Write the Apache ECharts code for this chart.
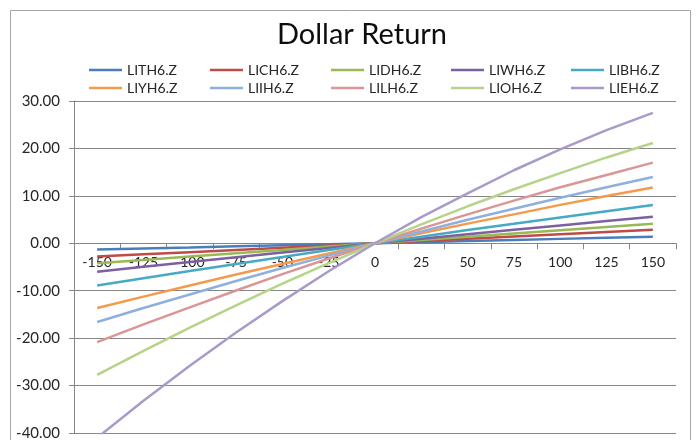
<!DOCTYPE html>
<html>
<head>
<meta charset="utf-8">
<title>Dollar Return</title>
<script src="https://cdn.jsdelivr.net/npm/echarts@6/dist/echarts.min.js"></script>
<style>
  html, body { margin: 0; padding: 0; background: #ffffff; }
  #chart { width: 697px; height: 440px; }
</style>
</head>
<body>
<div id="chart"></div>
<script>
// Price move (category axis)
const moves = ['-150', '-125', '-100', '-75', '-50', '-25', '0', '25', '50', '75', '100', '125', '150'];

// Dollar return per contract for each move
const LITH6 = [-1.30, -1.08, -0.87, -0.65, -0.43, -0.22, 0, 0.23, 0.46, 0.70, 0.93, 1.17, 1.40];
const LICH6 = [-2.80, -2.33, -1.87, -1.40, -0.93, -0.47, 0, 0.47, 0.94, 1.41, 1.89, 2.36, 2.83];
const LIDH6 = [-4.20, -3.50, -2.80, -2.10, -1.40, -0.70, 0, 0.69, 1.37, 2.06, 2.74, 3.42, 4.10];
const LIWH6 = [-6.00, -4.95, -3.95, -2.95, -1.95, -0.97, 0, 0.96, 1.91, 2.84, 3.77, 4.68, 5.58];
const LIBH6 = [-8.90, -7.35, -5.85, -4.35, -2.90, -1.40, 0, 1.40, 2.80, 4.10, 5.45, 6.75, 8.05];
const LIYH6 = [-13.65, -11.25, -8.90, -6.60, -4.35, -2.15, 0, 2.10, 4.15, 6.10, 8.10, 9.95, 11.78];
const LIIH6 = [-16.60, -13.65, -10.80, -7.95, -5.20, -2.60, 0, 2.50, 4.95, 7.30, 9.60, 11.80, 13.97];
const LILH6 = [-20.85, -17.10, -13.50, -9.95, -6.50, -3.20, 0, 3.10, 6.10, 9.00, 11.80, 14.40, 17.00];
const LIOH6 = [-27.75, -22.70, -17.80, -13.10, -8.50, -4.20, 0, 4.00, 7.80, 11.40, 14.80, 18.10, 21.15];
const LIEH6 = [-41.00, -33.20, -25.80, -18.80, -12.20, -5.90, 0, 5.50, 10.50, 15.40, 19.80, 23.85, 27.50];

const seriesNames = ['LITH6.Z', 'LICH6.Z', 'LIDH6.Z', 'LIWH6.Z', 'LIBH6.Z',
                     'LIYH6.Z', 'LIIH6.Z', 'LILH6.Z', 'LIOH6.Z', 'LIEH6.Z'];
const seriesData = [LITH6, LICH6, LIDH6, LIWH6, LIBH6, LIYH6, LIIH6, LILH6, LIOH6, LIEH6];
const colors = ['#4A7EBB', '#BE4B48', '#98B954', '#7D60A0', '#46AAC5',
                '#F59A4C', '#8EB0DE', '#DA9694', '#B5D48A', '#A99AC9'];

const FONT = 'Lato';

// Value-axis range; the category axis is drawn where the value is zero
const Y_MIN = -40, Y_MAX = 30;
const GRID_TOP = 101, GRID_BOTTOM = 7, CHART_H = 440;
const plotH = CHART_H - GRID_TOP - GRID_BOTTOM;
const zeroShift = -plotH * (0 - Y_MIN) / (Y_MAX - Y_MIN);

// Legend: two rows of five evenly spaced columns
const legendCols = [89, 210, 331, 451, 571];
const legendRows = [63, 81];
const legends = seriesNames.map((name, i) => ({
  data: [name],
  left: legendCols[i % 5],
  top: legendRows[Math.floor(i / 5)],
  icon: 'rect',
  itemWidth: 33,
  itemHeight: 2.5,
  padding: 0,
  selectedMode: false,
  textStyle: { fontFamily: FONT, fontSize: 14, color: '#262626' }
}));

const chart = echarts.init(document.getElementById('chart'), null, { renderer: 'canvas' });

chart.setOption({
  animation: false,
  color: colors,
  graphic: [
    {
      type: 'rect',
      shape: { x: 10.5, y: 10.5, width: 680, height: 440 },
      style: { fill: 'none', stroke: '#a6a6a6', lineWidth: 1 },
      silent: true
    },
    {
      type: 'text',
      x: 362,
      y: 35,
      style: {
        text: 'Dollar Return',
        fontFamily: FONT,
        fontSize: 29,
        fill: '#0d0d0d',
        align: 'center',
        verticalAlign: 'middle'
      }
    }
  ],
  legend: legends,
  grid: { left: 74, right: 21, top: GRID_TOP, bottom: GRID_BOTTOM, containLabel: false, outerBoundsMode: 'none' },
  xAxis: {
    type: 'category',
    data: moves,
    position: 'bottom',
    offset: zeroShift,
    boundaryGap: true,
    axisLine: { onZero: false, lineStyle: { color: '#868686', width: 1 } },
    axisTick: { show: true, length: 6, alignWithLabel: false, lineStyle: { color: '#868686' } },
    axisLabel: { fontFamily: FONT, fontSize: 14, color: '#262626', margin: 12, interval: 0 },
    splitLine: { show: false }
  },
  yAxis: {
    type: 'value',
    min: Y_MIN,
    max: Y_MAX,
    interval: 10,
    axisLine: { show: true, lineStyle: { color: '#868686', width: 1 } },
    axisTick: { show: true, length: 5, lineStyle: { color: '#868686' } },
    axisLabel: {
      fontFamily: FONT, fontSize: 15, color: '#262626', margin: 14,
      formatter: v => v.toFixed(2)
    },
    splitLine: { show: true, lineStyle: { color: '#868686', width: 1 } }
  },
  series: seriesNames.map((name, i) => ({
    name: name,
    type: 'line',
    data: seriesData[i],
    symbol: 'none',
    smooth: false,
    lineStyle: { width: 2.5, color: colors[i] },
    itemStyle: { color: colors[i] }
  }))
});
</script>
</body>
</html>
